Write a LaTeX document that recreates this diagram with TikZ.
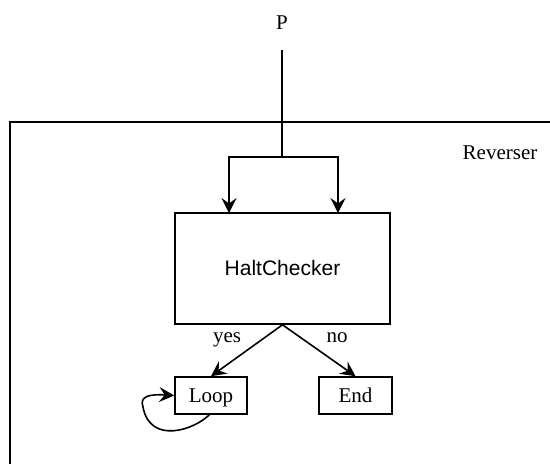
\documentclass[tikz,border=0pt]{standalone}
\usepackage{fontspec}
\setmainfont{Liberation Serif}
\newfontfamily\labelsans{Liberation Sans}
\usetikzlibrary{arrows.meta}
\begin{document}
\begin{tikzpicture}[x=1pt,y=-1pt,
  line width=1.6pt,
  txt/.style={font=\fontsize{21}{25}\selectfont, inner sep=0pt},
  blk/.style={draw, line width=1.6pt, inner sep=0pt, text height=14pt, text depth=0pt,
    font=\fontsize{21}{25}\selectfont},
  arr/.style={-{Stealth[length=15pt,width=15pt,inset=5.5pt]}, line width=1.6pt}]
\useasboundingbox (0,0) rectangle (550,464);

% enclosing Reverser frame (runs off the right and bottom)
\coordinate (frameBL) at (10,464);
\coordinate (frameTL) at (10,122);
\coordinate (frameTR) at (550,122);
\draw (frameBL) -- (frameTL) -- (frameTR);
\node[txt, anchor=base] (rev) at (500,159) {Reverser};

% input
\node[txt, anchor=base] (p) at (282,29) {P};
\coordinate (ptop) at (282,50);
\coordinate (split) at (282,157);

% HaltChecker block
\node[blk, minimum width=215pt, minimum height=111pt, font=\labelsans\fontsize{21}{25}\selectfont] (hc) at (282.5,268.5) {HaltChecker};
\coordinate (inA) at (229,213);
\coordinate (inB) at (338,213);

\draw (ptop) -- (split);
\draw[arr] (split) -| (inA);
\draw[arr] (split) -| (inB);

% outcomes
\node[blk, minimum width=72pt, minimum height=37pt] (loop) at (211,395.5) {Loop};
\node[blk, minimum width=73pt, minimum height=37pt] (end) at (355.5,395.5) {End};

\draw[arr] (hc.south) -- (loop.north);
\draw[arr] (hc.south) -- (end.north);

\node[txt, anchor=base] (yes) at (227,342) {yes};
\node[txt, anchor=base] (no) at (337,342) {no};

% self loop
\coordinate (lstart) at (210,414);
\coordinate (lleft) at (143,407);
\draw[arr] (lstart) .. controls (195,430) and (150,445) .. (lleft)
  .. controls (139,396) and (150,394) .. (loop.west);
\end{tikzpicture}
\end{document}
